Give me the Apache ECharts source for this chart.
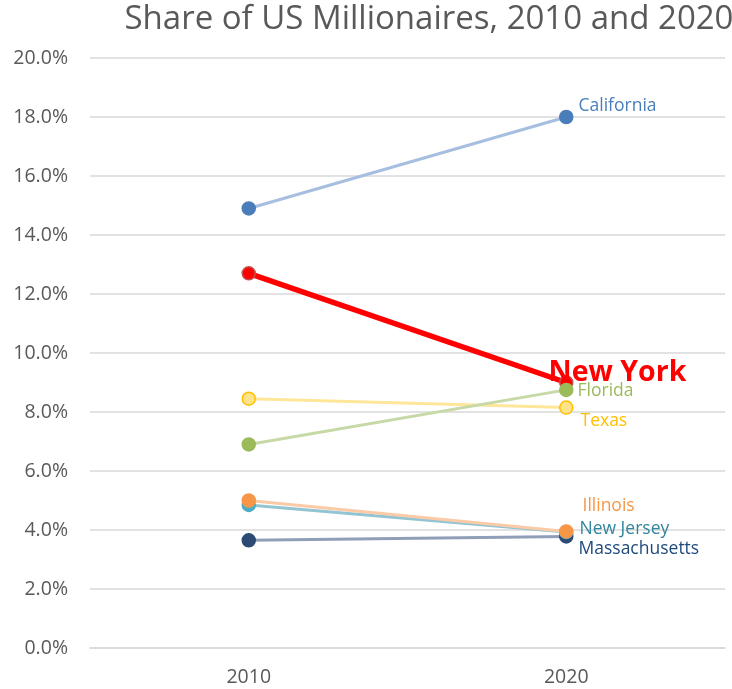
<!DOCTYPE html>
<html><head><meta charset="utf-8">
<script src="https://cdn.jsdelivr.net/npm/echarts@6/dist/echarts.min.js"></script>
<style>html,body{margin:0;padding:0;background:#fff}#c{width:732px;height:689px}</style>
</head><body><div id="c"></div>
<script>
const years = ['2010', '2020'];
const california = [14.9, 18.0];
const newYork = [12.7, 9.0];
const texas = [8.45, 8.15];
const florida = [6.9, 8.75];
const illinois = [5.0, 3.95];
const newJersey = [4.85, 3.93];
const massachusetts = [3.65, 3.78];
const yTicks = [0, 2, 4, 6, 8, 10, 12, 14, 16, 18, 20];

const font = '"Open Sans", "Noto Sans", sans-serif';
function mk(name, data, lineColor, markerColor, borderColor, width, labelColor, labelOpts) {
  return {
    name: name, type: 'line', data: data.map((v, i) => {
      const d = { value: v };
      if (i === 1) {
        d.label = Object.assign({
          show: true, position: 'right', formatter: name, color: labelColor,
          fontFamily: font, fontSize: 17.5
        }, labelOpts);
      }
      return d;
    }),
    symbol: 'circle', symbolSize: 13,
    lineStyle: { color: lineColor, width: width },
    itemStyle: { color: markerColor, borderColor: borderColor, borderWidth: 1.5 },
    emphasis: { disabled: true }, animation: false
  };
}
const chart = echarts.init(document.getElementById('c'));
chart.setOption({
  animation: false,
  title: { text: 'Share of US Millionaires, 2010 and 2020', left: 424, textAlign: 'center', top: -2,
    textStyle: { fontFamily: font, fontSize: 33, fontWeight: 'normal', color: '#595959' } },
  grid: { left: 90, right: 7, top: 58, bottom: 41 },
  xAxis: { type: 'category', data: years, boundaryGap: true,
    axisLine: { lineStyle: { color: '#d9d9d9', width: 1.5 } }, axisTick: { show: false },
    axisLabel: { fontFamily: font, fontSize: 19.5, color: '#595959', margin: 19 } },
  yAxis: { type: 'value', min: 0, max: 20, interval: 2,
    axisLabel: { fontFamily: font, fontSize: 19.5, color: '#595959', margin: 22,
      formatter: v => v.toFixed(1) + '%' },
    splitLine: { lineStyle: { color: '#d9d9d9', width: 1.5 } },
    axisLine: { show: false }, axisTick: { show: false } },
  series: [
    mk('California', california, '#a6bfe0', '#4a7ebb', '#4a7ebb', 3, '#4a7ebb', { offset: [0, -11] }),
    mk('Massachusetts', massachusetts, '#8f9fb8', '#2c4a74', '#2c4a74', 3, '#1f497d', { offset: [0, 13] }),
    mk('New Jersey', newJersey, '#93c4d3', '#4bacc6', '#4bacc6', 3, '#31859c', { offset: [1, -3] }),
    mk('Illinois', illinois, '#fbcaa6', '#f79646', '#f79646', 3, '#f79646', { offset: [4, -25] }),
    mk('Texas', texas, '#ffe699', '#ffe38a', '#ffc000', 3, '#ffc000', { offset: [2, 13] }),
    mk('New York', newYork, '#ff0000', '#ff0000', '#c0504d', 5.5, '#ff0000', { offset: [-30, -10], fontSize: 28.5, fontWeight: 'bold' }),
    mk('Florida', florida, '#c6d9a6', '#9bbb59', '#9bbb59', 3, '#9bbb59', { offset: [-1, 1] })
  ]
});
</script></body></html>
